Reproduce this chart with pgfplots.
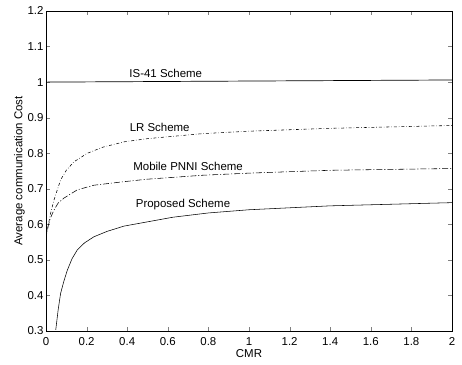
\documentclass[border=0pt]{standalone}
\usepackage{pgfplots}
\pgfplotsset{compat=1.18}
\usepackage{fontspec}
\setmainfont{Liberation Sans}
\newcommand{\fs}{\fontsize{11.5}{13}\selectfont}
\begin{document}
\begin{tikzpicture}
\begin{axis}[
  scale only axis,
  width=406bp, height=320bp,
  xmin=0, xmax=2, ymin=0.3, ymax=1.2,
  xtick={0,0.2,...,2.01}, ytick={0.3,0.4,...,1.21},
  tick align=inside, major tick length=4pt,
  xtick pos=both, ytick pos=both,
  tick label style={font=\fs},
  /pgf/number format/assume math mode=true,
  xticklabel style={/pgf/number format/fixed, yshift=-3pt},
  yticklabel style={/pgf/number format/fixed, xshift=1pt},
  xlabel={CMR}, ylabel={Average communication Cost},
  label style={font=\fs},
  xlabel style={yshift=3pt},
  ylabel style={yshift=-4pt},
  axis line style={line width=0.9pt},
  clip=true,
]
\addplot[black, no markers, line width=0.7pt] coordinates {(0,1.0) (2,1.006)};
\addplot[black, no markers, line width=0.55pt, dashdotted] coordinates {(0,0.565) (0.006,0.58) (0.02,0.625) (0.039,0.668) (0.072,0.725) (0.1,0.752) (0.138,0.776) (0.204,0.80) (0.28,0.817) (0.384,0.832) (0.5,0.841) (0.77,0.855) (1.0,0.862) (1.4,0.87) (2,0.878)};
\addplot[black, no markers, line width=0.55pt, dash pattern=on 6pt off 2pt on 1pt off 2pt] coordinates {(0,0.56) (0.006,0.585) (0.02,0.615) (0.039,0.64) (0.06,0.66) (0.089,0.674) (0.154,0.697) (0.236,0.71) (0.384,0.72) (0.5,0.727) (0.77,0.738) (1.0,0.744) (1.4,0.752) (2,0.757)};
\addplot[black, no markers, line width=0.55pt] coordinates {(0.048,0.303) (0.06,0.36) (0.072,0.406) (0.088,0.44) (0.105,0.471) (0.128,0.503) (0.154,0.528) (0.19,0.548) (0.236,0.565) (0.3,0.58) (0.384,0.595) (0.5,0.607) (0.625,0.62) (0.8,0.632) (1.0,0.641) (1.4,0.652) (2,0.661)};
\node[font=\fs] at (axis cs:0.59,1.024) {IS-41 Scheme};
\node[font=\fs] at (axis cs:0.56,0.872) {LR Scheme};
\node[font=\fs] at (axis cs:0.70,0.762) {Mobile PNNI Scheme};
\node[font=\fs] at (axis cs:0.675,0.655) {Proposed Scheme};
\end{axis}
\path (current axis.south west) ++(-46bp,-34bp) coordinate (bbA);
\path (current axis.north east) ++(10bp,11bp) coordinate (bbB);
\pgfresetboundingbox
\path[use as bounding box] (bbA) rectangle (bbB);
\end{tikzpicture}
\end{document}
